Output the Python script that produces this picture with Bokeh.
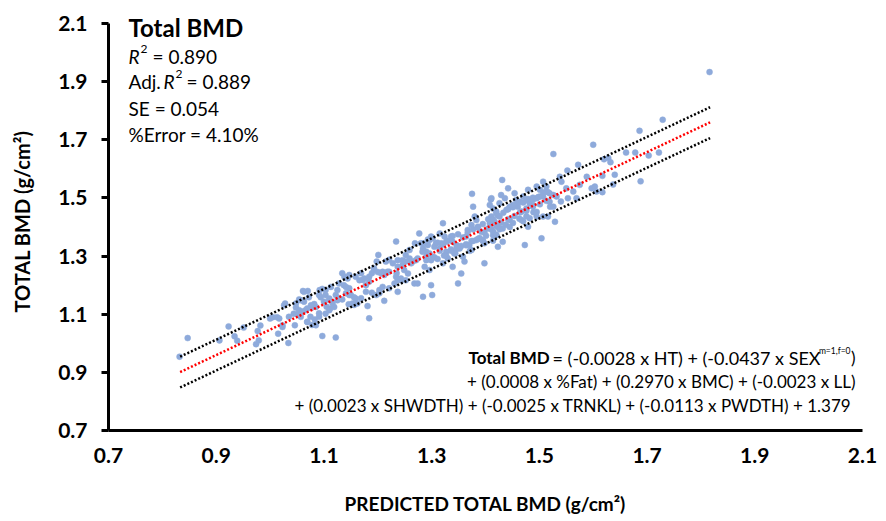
from bokeh.plotting import figure
from bokeh.models import Label, FixedTicker
from bokeh.embed import file_html
from bokeh.resources import INLINE

# Predicted total BMD (x) and measured total BMD (y), g/cm2
pred_bmd = [
    0.832, 0.847, 0.906, 0.923, 0.934, 0.939, 0.951, 0.974, 0.977, 0.979, 0.982,
    1.000, 1.005, 1.013, 1.015, 1.023, 1.028, 1.034, 1.046, 1.048, 1.051,
    1.054, 1.057, 1.060, 1.061, 1.063, 1.066, 1.069, 1.070, 1.072, 1.077, 1.078,
    1.082, 1.083, 1.091, 1.092, 1.094, 1.097, 1.097, 1.103, 1.105, 1.110, 1.111,
    1.116, 1.122, 1.122, 1.125, 1.128, 1.134, 1.134, 1.137, 1.141, 1.144, 1.146,
    1.147, 1.150, 1.156, 1.156, 1.159, 1.162, 1.169, 1.169, 1.172, 1.178, 1.178,
    1.181, 1.184, 1.184, 1.189, 1.189, 1.193, 1.198, 1.200, 1.201, 1.203, 1.206,
    1.212, 1.212, 1.218, 1.221, 1.221, 1.228, 1.231, 1.234, 1.235, 1.237, 1.237,
    1.237, 1.243, 1.246, 1.249, 1.252, 1.256, 1.259, 1.262, 1.268, 1.271, 1.274,
    1.277, 1.280, 1.284, 1.284, 1.287, 1.290, 1.290, 1.293, 1.296, 1.296, 1.299,
    1.299, 1.301, 1.302, 1.308, 1.315, 1.315, 1.321, 1.321, 1.324, 1.327, 1.330,
    1.336, 1.339, 1.339, 1.342, 1.346, 1.349, 1.352, 1.355, 1.358, 1.361, 1.364,
    1.367, 1.370, 1.374, 1.374, 1.375, 1.377, 1.380, 1.383, 1.383, 1.386, 1.392,
    1.395, 1.398, 1.398, 1.405, 1.408, 1.408, 1.411, 1.414, 1.420, 1.423,
    1.411, 1.414, 1.414, 1.417, 1.420, 1.420, 1.423, 1.426, 1.429, 1.431, 1.432,
    1.432, 1.436, 1.439, 1.445, 1.445, 1.451, 1.454, 1.457, 1.460, 1.464, 1.467,
    1.467, 1.470, 1.473, 1.476, 1.476, 1.479, 1.479, 1.482, 1.482, 1.488, 1.488,
    1.495, 1.495, 1.495, 1.501, 1.501, 1.504, 1.507, 1.507, 1.507, 1.513, 1.513,
    1.516, 1.519, 1.519, 1.526, 1.526, 1.526, 1.529, 1.532, 1.538, 1.541, 1.550,
    1.552, 1.553, 1.563, 1.569, 1.572, 1.575, 1.588, 1.597, 1.600, 1.603, 1.606,
    1.617, 1.617, 1.620, 1.628, 1.632, 1.637, 1.640, 1.661, 1.678, 1.686, 1.688,
    1.703, 1.722, 1.729, 1.816,
    # denser band, 1.0 - 1.33
    1.269, 1.305, 1.318, 1.327, 1.283, 1.290, 1.299, 1.259, 1.252, 1.265, 1.274,
    1.246, 1.237, 1.215, 1.193, 1.209, 1.221, 1.234, 1.243, 1.252, 1.184, 1.175,
    1.166, 1.147, 1.138, 1.141, 1.128, 1.113, 1.103, 1.091, 1.110, 1.100, 1.085,
    1.076, 1.069, 1.063, 1.057, 1.048, 1.054, 1.044, 1.035, 1.026, 1.023, 1.017,
    1.147, 1.159, 1.153, 1.125, 1.119, 1.110, 1.103, 1.091, 1.075, 1.069, 1.085,
    1.197, 1.203, 1.209,
    # denser band, 1.28 - 1.52
    1.284, 1.293, 1.302, 1.311, 1.321, 1.330, 1.339, 1.349, 1.358, 1.367, 1.377,
    1.386, 1.395, 1.405, 1.414, 1.423, 1.433, 1.442, 1.451, 1.460, 1.470, 1.479,
    1.488, 1.498, 1.507, 1.516, 1.296, 1.305, 1.315, 1.327, 1.336, 1.346, 1.355,
    1.364, 1.374, 1.386, 1.398, 1.411, 1.420, 1.429, 1.442, 1.454, 1.464, 1.476,
    1.488, 1.501, 1.513, 1.410, 1.426, 1.442,
    # lower half of the band, 1.31 - 1.54
    1.336, 1.352, 1.364, 1.377, 1.389, 1.401, 1.414, 1.426, 1.438, 1.451, 1.463,
    1.476, 1.489, 1.311, 1.323, 1.344, 1.371, 1.395, 1.420, 1.445, 1.470, 1.495,
    1.520, 1.540,
]
meas_bmd = [
    0.954, 1.018, 1.010, 1.058, 1.024, 1.009, 1.054, 0.997, 1.042, 1.010, 1.061,
    1.085, 1.090, 1.090, 1.033, 1.062, 1.137, 1.001, 1.062, 1.123, 1.100,
    1.151, 1.091, 1.109, 1.180, 1.143, 1.114, 1.073, 1.180, 1.158, 1.122, 1.063,
    1.135, 1.082, 1.103, 1.183, 1.158, 1.187, 1.025, 1.166, 1.126, 1.149, 1.119,
    1.137, 1.020, 1.166, 1.183, 1.155, 1.241, 1.151, 1.200, 1.172, 1.223, 1.134,
    1.189, 1.166, 1.158, 1.132, 1.229, 1.137, 1.241, 1.155, 1.218, 1.200, 1.177,
    1.128, 1.212, 1.086, 1.241, 1.174, 1.252, 1.281, 1.245, 1.304, 1.172, 1.241,
    1.235, 1.146, 1.246, 1.287, 1.189, 1.275, 1.206, 1.350, 1.241, 1.218, 1.177,
    1.263, 1.223, 1.286, 1.252, 1.304, 1.240, 1.321, 1.275, 1.206, 1.286, 1.206,
    1.378, 1.344, 1.326, 1.160, 1.263, 1.315, 1.286, 1.338, 1.355, 1.252, 1.367,
    1.200, 1.166, 1.298, 1.344, 1.326, 1.378, 1.413, 1.275, 1.367, 1.315, 1.292,
    1.367, 1.349, 1.263, 1.309, 1.338, 1.206, 1.326, 1.240, 1.298, 1.281, 1.367,
    1.390, 1.338, 1.407, 1.321, 1.514, 1.470, 1.436, 1.424, 1.355, 1.401, 1.384,
    1.355, 1.344, 1.275, 1.395, 1.413, 1.476, 1.436, 1.372, 1.453, 1.332,
    1.499, 1.464, 1.353, 1.418, 1.447, 1.372, 1.401, 1.436, 1.510, 1.562, 1.395,
    1.349, 1.499, 1.459, 1.470, 1.424, 1.476, 1.516, 1.493, 1.470, 1.487, 1.453,
    1.424, 1.505, 1.338, 1.493, 1.464, 1.528, 1.401, 1.482, 1.430, 1.493, 1.470,
    1.539, 1.499, 1.436, 1.528, 1.505, 1.361, 1.556, 1.505, 1.436, 1.539, 1.522,
    1.436, 1.516, 1.487, 1.651, 1.510, 1.470, 1.418, 1.505, 1.573, 1.556, 1.533,
    1.594, 1.499, 1.522, 1.499, 1.614, 1.545, 1.573, 1.533, 1.683, 1.539, 1.522,
    1.576, 1.520, 1.633, 1.637, 1.623, 1.546, 1.580, 1.656, 1.656, 1.731, 1.557,
    1.646, 1.656, 1.769, 1.933,
    # denser band, 1.0 - 1.33
    1.344, 1.332, 1.344, 1.349, 1.315, 1.298, 1.286, 1.292, 1.281, 1.281, 1.292,
    1.269, 1.286, 1.281, 1.258, 1.246, 1.246, 1.229, 1.217, 1.217, 1.229, 1.223,
    1.217, 1.235, 1.229, 1.194, 1.206, 1.194, 1.183, 1.166, 1.154, 1.143, 1.125,
    1.131, 1.120, 1.177, 1.148, 1.137, 1.114, 1.102, 1.091, 1.131, 1.056, 1.085,
    1.166, 1.154, 1.137, 1.148, 1.125, 1.114, 1.102, 1.091, 1.091, 1.074, 1.062,
    1.166, 1.183, 1.194,
    # denser band, 1.28 - 1.52
    1.344, 1.357, 1.361, 1.346, 1.340, 1.353, 1.369, 1.375, 1.364, 1.381, 1.392,
    1.398, 1.410, 1.427, 1.426, 1.439, 1.449, 1.461, 1.468, 1.485, 1.484, 1.496,
    1.501, 1.503, 1.519, 1.520, 1.309, 1.296, 1.318, 1.301, 1.323, 1.324, 1.335,
    1.341, 1.352, 1.359, 1.381, 1.392, 1.404, 1.415, 1.427, 1.438, 1.450, 1.456,
    1.473, 1.478, 1.490, 1.495, 1.482, 1.533,
    # lower half of the band, 1.31 - 1.54
    1.318, 1.330, 1.337, 1.352, 1.362, 1.370, 1.385, 1.392, 1.408, 1.414, 1.428,
    1.437, 1.451, 1.290, 1.302, 1.309, 1.318, 1.352, 1.373, 1.400, 1.420, 1.452,
    1.470, 1.488,
]

# Regression line and +/- SE band end points
fit_x = [0.833, 1.817]
fit_y = [0.901, 1.760]
upper_y = [0.954, 1.812]
lower_y = [0.848, 1.706]

ticks = [0.7, 0.9, 1.1, 1.3, 1.5, 1.7, 1.9, 2.1]

FONT = "Lato"

# frame spans 0.7..2.1 on y from px 430 to 23 (290 px per unit); a little
# head-room above 2.1 keeps the title text inside the frame
p = figure(width=878, height=521, output_backend="svg", toolbar_location=None,
           x_range=(0.7, 2.1), y_range=(0.7, 2.1 + 11 / 290),
           min_border_left=108, min_border_right=16, min_border_top=12,
           min_border_bottom=91)
p.outline_line_color = None
p.xgrid.visible = False
p.ygrid.visible = False
p.background_fill_color = "white"

for ax in (p.xaxis[0], p.yaxis[0]):
    ax.ticker = FixedTicker(ticks=ticks)
    ax.bounds = (0.7, 2.1)
    ax.axis_line_width = 3
    ax.axis_line_color = "black"
    ax.minor_tick_line_color = None
    ax.major_label_text_font = FONT
    ax.major_label_text_font_style = "bold"
    ax.major_label_text_font_size = "21px"
    ax.major_label_text_color = "black"
    ax.major_label_overrides = {t: f"{t:.1f}" for t in ticks}
    ax.axis_label_text_font = FONT
    ax.axis_label_text_font_style = "bold"
    ax.axis_label_text_color = "black"

p.xaxis.major_tick_line_color = None
p.xaxis.major_tick_out = 0
p.xaxis.major_tick_in = 0
p.xaxis.major_label_standoff = 17
p.xaxis.axis_label = "PREDICTED TOTAL BMD (g/cm²)"
p.xaxis.axis_label_text_font_size = "19px"
p.xaxis.axis_label_standoff = 26

p.yaxis.major_tick_line_width = 3
p.yaxis.major_tick_line_color = "black"
p.yaxis.major_tick_out = 7
p.yaxis.major_tick_in = 0
p.yaxis.major_label_standoff = 14
p.yaxis.axis_label = "TOTAL BMD (g/cm²)"
p.yaxis.axis_label_text_font_size = "20px"
p.yaxis.axis_label_standoff = 21

p.scatter(pred_bmd, meas_bmd, size=6, fill_color="#8EAADB", line_color="#8EAADB",
          line_width=0.5)

p.line(fit_x, upper_y, line_color="black", line_width=2.5, line_dash="2 2")
p.line(fit_x, lower_y, line_color="black", line_width=2.5, line_dash="2 2")
p.line(fit_x, fit_y, line_color="red", line_width=2.5, line_dash="2 2")


def lab(x, y, text, size, style="normal", align="left"):
    p.add_layout(Label(x=x, y=y, x_units="screen", y_units="screen", text=text,
                       text_font=FONT, text_font_size=f"{size}px",
                       text_font_style=style, text_align=align,
                       text_baseline="alphabetic", text_color="black"))


# stats block (screen coords relative to frame bottom-left)
lab(20, 403, "Total BMD", 24, "bold")
lab(20, 374, "R", 19, "italic")
lab(32, 382, "2", 12)
lab(44, 374, "= 0.890", 19)
lab(20, 349, "Adj.", 19)
lab(55, 349, "R", 19, "italic")
lab(67, 357, "2", 12)
lab(78, 349, "= 0.889", 19)
lab(20, 322, "SE = 0.054", 19)
lab(20, 296, "%Error = 4.10%", 19)

# equation block
lab(747, 73, ")", 17, align="right")
lab(742, 80, "m=1,f=0", 8.5, align="right")
lab(712, 73, "= (-0.0028 x HT) + (-0.0437 x SEX", 18, align="right")
lab(360, 73, "Total BMD", 17, "bold")
lab(747, 49, "+ (0.0008 x %Fat) + (0.2970 x BMC) + (-0.0023 x LL)", 17, align="right")
lab(747, 25, "+ (0.0023 x SHWDTH)  + (-0.0025 x TRNKL) + (-0.0113 x PWDTH) + 1.379", 17,
    align="right")

open("out.html", "w").write(file_html(p, INLINE))
